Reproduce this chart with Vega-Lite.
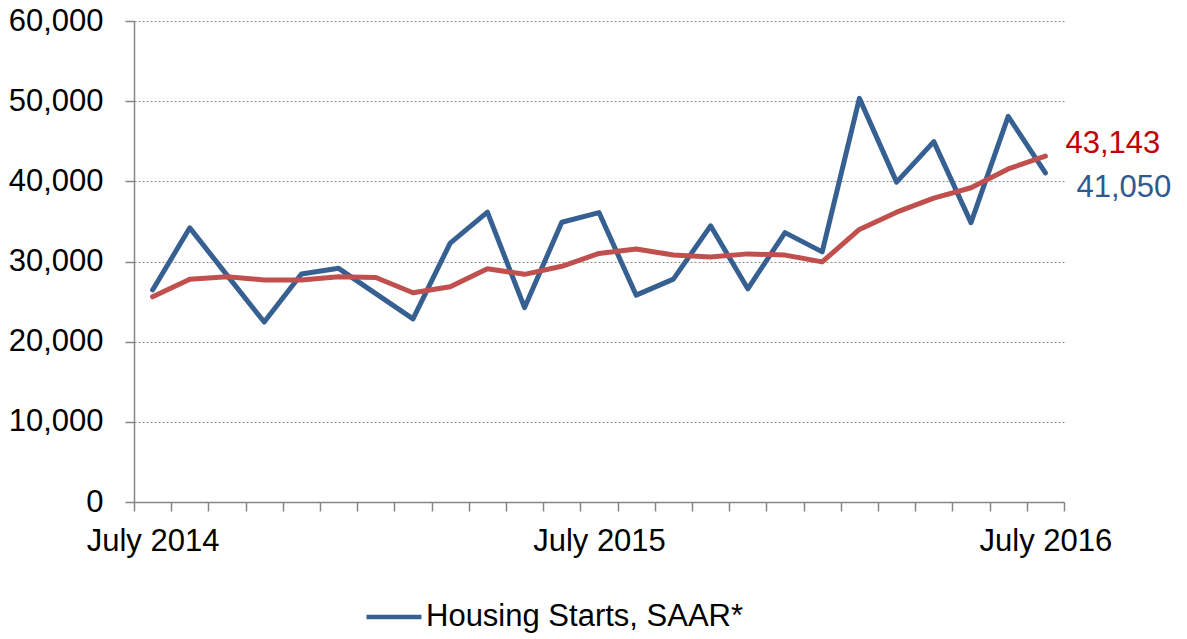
{
  "$schema": "https://vega.github.io/schema/vega-lite/v6.json",
  "autosize": {"type": "none"},
  "padding": {"left": 134, "top": 21, "right": 123, "bottom": 137},
  "width": 930,
  "height": 481,
  "background": "white",
  "config": {
    "view": {"stroke": null},
    "font": "Liberation Sans",
    "axis": {"labelFont": "Liberation Sans", "labelColor": "#000000"},
    "legend": {"labelFont": "Liberation Sans"}
  },
  "datasets": {
    "rows": [
      {"month": "2014-07", "series": "Housing Starts, SAAR*", "value": 26450},
      {"month": "2014-08", "series": "Housing Starts, SAAR*", "value": 34200},
      {"month": "2014-09", "series": "Housing Starts, SAAR*", "value": 28300},
      {"month": "2014-10", "series": "Housing Starts, SAAR*", "value": 22450},
      {"month": "2014-11", "series": "Housing Starts, SAAR*", "value": 28450},
      {"month": "2014-12", "series": "Housing Starts, SAAR*", "value": 29150},
      {"month": "2015-01", "series": "Housing Starts, SAAR*", "value": 26000},
      {"month": "2015-02", "series": "Housing Starts, SAAR*", "value": 22850},
      {"month": "2015-03", "series": "Housing Starts, SAAR*", "value": 32300},
      {"month": "2015-04", "series": "Housing Starts, SAAR*", "value": 36150},
      {"month": "2015-05", "series": "Housing Starts, SAAR*", "value": 24250},
      {"month": "2015-06", "series": "Housing Starts, SAAR*", "value": 34900},
      {"month": "2015-07", "series": "Housing Starts, SAAR*", "value": 36100},
      {"month": "2015-08", "series": "Housing Starts, SAAR*", "value": 25800},
      {"month": "2015-09", "series": "Housing Starts, SAAR*", "value": 27800},
      {"month": "2015-10", "series": "Housing Starts, SAAR*", "value": 34450},
      {"month": "2015-11", "series": "Housing Starts, SAAR*", "value": 26600},
      {"month": "2015-12", "series": "Housing Starts, SAAR*", "value": 33600},
      {"month": "2016-01", "series": "Housing Starts, SAAR*", "value": 31200},
      {"month": "2016-02", "series": "Housing Starts, SAAR*", "value": 50350},
      {"month": "2016-03", "series": "Housing Starts, SAAR*", "value": 39900},
      {"month": "2016-04", "series": "Housing Starts, SAAR*", "value": 44950},
      {"month": "2016-05", "series": "Housing Starts, SAAR*", "value": 34850},
      {"month": "2016-06", "series": "Housing Starts, SAAR*", "value": 48100},
      {"month": "2016-07", "series": "Housing Starts, SAAR*", "value": 41050},
      {"month": "2014-07", "series": "Moving Average", "value": 25600},
      {"month": "2014-08", "series": "Moving Average", "value": 27800},
      {"month": "2014-09", "series": "Moving Average", "value": 28100},
      {"month": "2014-10", "series": "Moving Average", "value": 27700},
      {"month": "2014-11", "series": "Moving Average", "value": 27700},
      {"month": "2014-12", "series": "Moving Average", "value": 28100},
      {"month": "2015-01", "series": "Moving Average", "value": 28000},
      {"month": "2015-02", "series": "Moving Average", "value": 26100},
      {"month": "2015-03", "series": "Moving Average", "value": 26850},
      {"month": "2015-04", "series": "Moving Average", "value": 29100},
      {"month": "2015-05", "series": "Moving Average", "value": 28400},
      {"month": "2015-06", "series": "Moving Average", "value": 29400},
      {"month": "2015-07", "series": "Moving Average", "value": 31000},
      {"month": "2015-08", "series": "Moving Average", "value": 31550},
      {"month": "2015-09", "series": "Moving Average", "value": 30800},
      {"month": "2015-10", "series": "Moving Average", "value": 30550},
      {"month": "2015-11", "series": "Moving Average", "value": 30950},
      {"month": "2015-12", "series": "Moving Average", "value": 30800},
      {"month": "2016-01", "series": "Moving Average", "value": 29950},
      {"month": "2016-02", "series": "Moving Average", "value": 34000},
      {"month": "2016-03", "series": "Moving Average", "value": 36150},
      {"month": "2016-04", "series": "Moving Average", "value": 37900},
      {"month": "2016-05", "series": "Moving Average", "value": 39200},
      {"month": "2016-06", "series": "Moving Average", "value": 41550},
      {"month": "2016-07", "series": "Moving Average", "value": 43143}
    ]
  },
  "data": {"name": "rows"},
  "encoding": {
    "x": {
      "field": "month",
      "type": "ordinal",
      "bandPosition": 0.5,
      "sort": null,
      "scale": {"type": "band", "paddingInner": 0, "paddingOuter": 0},
      "axis": {
        "title": null,
        "labelExpr": "datum.value == '2014-07' ? 'July 2014' : datum.value == '2015-07' ? 'July 2015' : datum.value == '2016-07' ? 'July 2016' : ''",
        "labelAngle": 0,
        "labelFontSize": 31,
        "labelPadding": 15,
        "labelOverlap": false,
        "labelBound": false,
        "tickBand": "extent",
        "tickSize": 9,
        "tickColor": "#868686",
        "tickWidth": 1.5,
        "domainColor": "#868686",
        "domainWidth": 1.5,
        "grid": false
      }
    },
    "y": {
      "field": "value",
      "type": "quantitative",
      "scale": {"domain": [0, 60000], "nice": false},
      "axis": {
        "title": null,
        "values": [0, 10000, 20000, 30000, 40000, 50000, 60000],
        "format": ",.0f",
        "labelFontSize": 31,
        "labelPadding": 22,
        "tickSize": 9,
        "tickColor": "#868686",
        "tickWidth": 1.5,
        "domainColor": "#868686",
        "domainWidth": 1.5,
        "grid": true,
        "gridColor": "#8c8c8c",
        "gridDash": [2, 2],
        "gridWidth": 1.2
      }
    }
  },
  "layer": [
    {
      "transform": [{"filter": "datum.series == 'Housing Starts, SAAR*'"}],
      "mark": {"type": "line", "strokeWidth": 5, "strokeJoin": "round", "strokeCap": "round"},
      "encoding": {
        "color": {
          "field": "series",
          "type": "nominal",
          "scale": {"domain": ["Housing Starts, SAAR*"], "range": ["#376092"]},
          "legend": {
            "orient": "none",
            "legendX": 230,
            "legendY": 566,
            "title": null,
            "symbolType": "stroke",
            "symbolSize": 3025,
            "symbolStrokeWidth": 4.5,
            "labelFontSize": 31,
            "labelColor": "#000000",
            "labelOffset": 2,
            "labelLimit": 500,
            "padding": 0
          }
        }
      }
    },
    {
      "transform": [{"filter": "datum.series == 'Moving Average'"}],
      "mark": {"type": "line", "strokeWidth": 5, "color": "#C0504D", "strokeJoin": "round", "strokeCap": "round"},
      "encoding": {}
    },
    {
      "transform": [{"filter": "datum.series == 'Moving Average' && datum.month == '2016-07'"}],
      "mark": {"type": "text", "align": "left", "baseline": "alphabetic", "dx": 20, "dy": -3, "fontSize": 31, "color": "#C00000", "font": "Liberation Sans"},
      "encoding": {"text": {"field": "value", "type": "quantitative", "format": ","}}
    },
    {
      "transform": [{"filter": "datum.series == 'Housing Starts, SAAR*' && datum.month == '2016-07'"}],
      "mark": {"type": "text", "align": "left", "baseline": "alphabetic", "dx": 31, "dy": 24, "fontSize": 31, "color": "#30598F", "font": "Liberation Sans"},
      "encoding": {"text": {"field": "value", "type": "quantitative", "format": ","}}
    }
  ]
}
